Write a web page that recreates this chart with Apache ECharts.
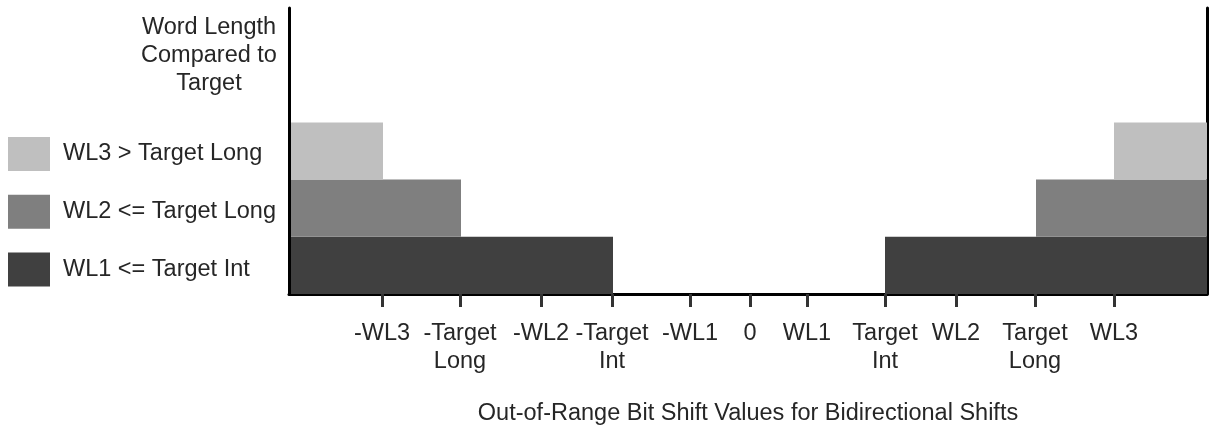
<!DOCTYPE html>
<html>
<head>
<meta charset="utf-8">
<script src="https://cdn.jsdelivr.net/npm/echarts@6/dist/echarts.min.js"></script>
<style>
  html, body { margin: 0; padding: 0; background: #fff; }
  #chart { width: 1209px; height: 431px; }
</style>
</head>
<body>
<div id="chart"></div>
<script>
// Shift-value scale (arbitrary units, 0 = no shift)
const axisMin = -461;
const axisMax = 457;

// Tick positions and their labels along the shift axis
const tickValues = [-368, -290, -209, -138, -60, 0, 57, 135, 206, 285, 364];
const tickLabels = ['-WL3', '-Target\nLong', '-WL2', '-Target\nInt', '-WL1', '0', 'WL1', 'Target\nInt', 'WL2', 'Target\nLong', 'WL3'];

// One row per word-length case (bottom to top)
const rowNames = ['WL1 <= Target Int', 'WL2 <= Target Long', 'WL3 > Target Long'];
const rowColors = ['#404040', '#7f7f7f', '#bfbfbf'];
// Out-of-range region ends on the negative side and starts on the positive side
const leftEnds = [-137, -289, -367];
const rightStarts = [135, 286, 364];

const FONT = "'Liberation Sans', Arial, sans-serif";
const TEXT = '#262626';
const FS = 23.5;

function renderItem(params, api) {
  const topLeft = api.coord([api.value(0), api.value(2) + 1]);
  const bottomRight = api.coord([api.value(1), api.value(2)]);
  return {
    type: 'rect',
    shape: {
      x: topLeft[0],
      y: topLeft[1],
      width: bottomRight[0] - topLeft[0],
      height: bottomRight[1] - topLeft[1]
    },
    style: { fill: api.visual('color') }
  };
}

const series = rowNames.map((name, i) => ({
  type: 'custom',
  name: name,
  renderItem: renderItem,
  itemStyle: { color: rowColors[i] },
  encode: { x: [0, 1], y: 2 },
  data: [
    [axisMin, leftEnds[i], i],
    [rightStarts[i], axisMax, i]
  ],
  silent: true
}));

const chart = echarts.init(document.getElementById('chart'), null, { renderer: 'canvas' });
chart.setOption({
  animation: false,
  backgroundColor: '#fff',
  textStyle: { fontFamily: FONT },
  title: {
    text: 'Word Length\nCompared to\nTarget',
    left: 209,
    top: 14,
    padding: 0,
    textAlign: 'center',
    textStyle: { fontFamily: FONT, fontSize: FS, lineHeight: 28, fontWeight: 'normal', color: TEXT }
  },
  legend: {
    orient: 'vertical',
    left: 8,
    top: 137,
    padding: 0,
    itemWidth: 42,
    itemHeight: 34,
    itemGap: 23.8,
    icon: 'rect',
    selectedMode: false,
    data: rowNames.slice().reverse(),
    textStyle: { fontFamily: FONT, fontSize: FS, color: TEXT, padding: [4, 0, 0, 8] }
  },
  grid: { left: 289, right: 2, top: 8, bottom: 134, containLabel: false },
  xAxis: {
    type: 'value',
    min: axisMin,
    max: axisMax,
    name: 'Out-of-Range Bit Shift Values for Bidirectional Shifts',
    nameLocation: 'middle',
    nameGap: 108,
    nameTextStyle: { fontFamily: FONT, fontSize: FS, color: TEXT },
    axisLine: { show: true, onZero: false, lineStyle: { color: '#000', width: 3 } },
    axisTick: {
      show: true,
      customValues: tickValues,
      length: 13,
      lineStyle: { color: '#333', width: 3 }
    },
    axisLabel: {
      customValues: tickValues,
      margin: 26,
      fontFamily: FONT,
      fontSize: FS,
      lineHeight: 28,
      color: TEXT,
      formatter: v => {
        const idx = tickValues.indexOf(v);
        return idx >= 0 ? tickLabels[idx] : '';
      }
    },
    splitLine: { show: false }
  },
  yAxis: [
    {
      type: 'value',
      position: 'left',
      min: 0,
      max: 5,
      z: 10,
      axisLine: { show: true, onZero: false, lineStyle: { color: '#000', width: 3 } },
      axisTick: { show: false },
      axisLabel: { show: false },
      splitLine: { show: false }
    },
    {
      type: 'value',
      position: 'right',
      min: 0,
      max: 5,
      axisLine: { show: true, onZero: false, lineStyle: { color: '#000', width: 3 } },
      axisTick: { show: false },
      axisLabel: { show: false },
      splitLine: { show: false }
    }
  ],
  series: series
});
</script>
</body>
</html>
